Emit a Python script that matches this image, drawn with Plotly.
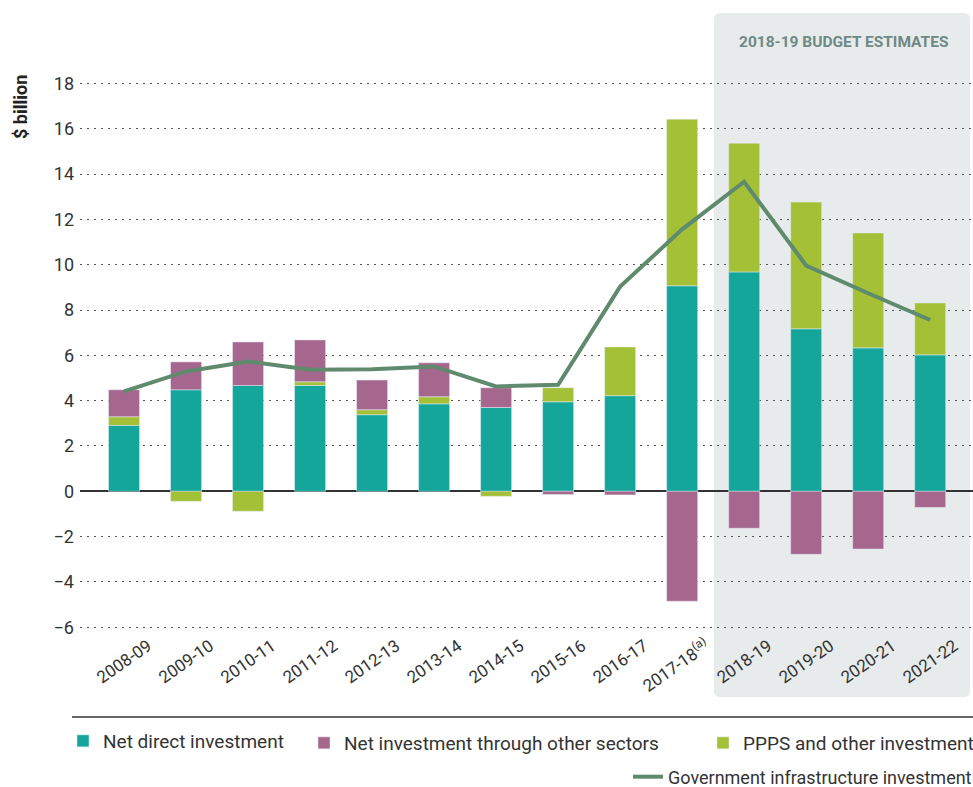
import plotly.graph_objects as go

years = ["2008-09", "2009-10", "2010-11", "2011-12", "2012-13", "2013-14", "2014-15",
         "2015-16", "2016-17", "2017-18<sup>(a)</sup>", "2018-19", "2019-20", "2020-21", "2021-22"]
net_direct = [2.91, 4.48, 4.67, 4.67, 3.38, 3.86, 3.70, 3.95, 4.22, 9.07, 9.68, 7.17, 6.33, 6.02]
ppps_other = [0.38, -0.44, -0.88, 0.16, 0.22, 0.31, -0.22, 0.62, 2.15, 7.35, 5.68, 5.59, 5.07, 2.29]
other_sectors = [1.19, 1.23, 1.92, 1.85, 1.31, 1.50, 0.87, -0.14, -0.16, -4.85, -1.63, -2.78, -2.55, -0.71]
govt_infra = [4.41, 5.29, 5.73, 5.36, 5.39, 5.51, 4.63, 4.70, 9.03, 11.56, 13.66, 9.96, 8.74, 7.56]

TEAL = "#14a59b"
PURPLE = "#a6678f"
GREEN = "#a3c037"
LINE = "#5f8a6e"
FONT = "Roboto"

W, H = 973, 787
ML, MR, MT, MB = 80, 0, 60, 147
PW, PH = W - ML - MR, H - MT - MB


def px(x):
    return (x - ML) / PW


def py(y):
    return (MT + PH - y) / PH


fig = go.Figure()
x = list(range(len(years)))
fig.add_trace(go.Bar(x=x, y=net_direct, name="Net direct investment",
                     marker_color=TEAL, legend="legend"))
fig.add_trace(go.Bar(x=x, y=ppps_other, name="PPPS and other investment",
                     marker_color=GREEN, legend="legend3"))
fig.add_trace(go.Bar(x=x, y=other_sectors, name="Net investment through other sectors",
                     marker_color=PURPLE, legend="legend2"))
fig.add_trace(go.Scatter(x=x, y=govt_infra, name="Government infrastructure investment",
                         mode="lines", line=dict(color=LINE, width=4), legend="legend4"))

# shaded budget estimates panel with rounded corners
x0, x1 = px(714), px(970)
y0, y1 = py(697), py(13)
rx, ry = 6 / PW, 6 / PH
panel = (f"M{x0+rx},{y0} L{x1-rx},{y0} Q{x1},{y0} {x1},{y0+ry} L{x1},{y1-ry} "
         f"Q{x1},{y1} {x1-rx},{y1} L{x0+rx},{y1} Q{x0},{y1} {x0},{y1-ry} "
         f"L{x0},{y0+ry} Q{x0},{y0} {x0+rx},{y0} Z")
fig.add_shape(type="path", path=panel, xref="paper", yref="paper",
              fillcolor="#e7ebec", line_width=0, layer="below")
fig.add_shape(type="line", xref="paper", yref="paper", x0=px(72), x1=1, y0=py(717), y1=py(717),
              line=dict(color="#666666", width=2))

fig.add_annotation(text="2018-19 BUDGET ESTIMATES", xref="paper", yref="paper",
                   x=px(843), y=py(42), xanchor="center", yanchor="middle", showarrow=False,
                   font=dict(family=FONT, size=15.5, color="#6f8985", weight="bold"))
fig.add_annotation(text="$ billion", xref="paper", yref="paper", textangle=-90,
                   x=px(20), y=py(107), xanchor="center", yanchor="middle", showarrow=False,
                   font=dict(family=FONT, size=18, color="#222222", weight="bold"))

leg = dict(orientation="h", xref="container", yref="container", yanchor="middle",
           xanchor="left", bgcolor="rgba(0,0,0,0)",
           font=dict(family=FONT, size=19, color="#333333"))

fig.update_layout(
    width=W, height=H,
    margin=dict(l=ML, r=MR, t=MT, b=MB),
    barmode="relative", bargap=0.5,
    plot_bgcolor="rgba(0,0,0,0)", paper_bgcolor="white",
    font=dict(family=FONT, color="#333333"),
    showlegend=True,
    legend=dict(leg, x=63 / W, y=1 - 741 / H),
    legend2=dict(leg, x=304 / W, y=1 - 743 / H),
    legend3=dict(leg, x=703 / W, y=1 - 743 / H),
    legend4=dict(leg, x=628 / W, y=1 - 777 / H,
                 font=dict(family=FONT, size=18, color="#333333")),
    xaxis=dict(range=[-0.71, 13.69], tickvals=x, ticktext=years, tickangle=-35,
               showgrid=False, showline=False, ticks="", ticklabelshift=24,
               ticklabelstandoff=-8,
               tickfont=dict(family=FONT, size=17, color="#333333")),
    yaxis=dict(range=[-6.56, 19.03], tickvals=list(range(-6, 19, 2)),
               showgrid=True, gridcolor="#555555", gridwidth=1, griddash="2px,5px",
               zeroline=True, zerolinecolor="#333333", zerolinewidth=2,
               showline=False, ticks="", ticklabelstandoff=5,
               tickfont=dict(family=FONT, size=18, color="#333333")),
)

fig.write_html("out.html", config={"displayModeBar": False},
               post_script="document.body.style.margin='0';")
